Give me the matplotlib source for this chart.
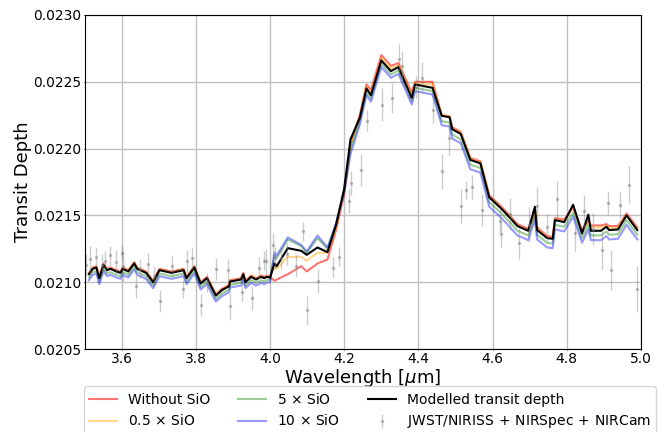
import numpy as np
import matplotlib
matplotlib.use("Agg")
import matplotlib.pyplot as plt

# model wavelength grid (micron)
wl_model = [3.512, 3.522, 3.532, 3.540, 3.551, 3.561, 3.570, 3.586, 3.597, 3.603,
            3.618, 3.634, 3.642, 3.666, 3.685, 3.702, 3.735, 3.767, 3.775, 3.796,
            3.813, 3.830, 3.854, 3.870, 3.890, 3.892, 3.922, 3.928, 3.934, 3.949,
            3.962, 3.976, 3.985, 3.991, 4.000, 4.012, 4.018, 4.048, 4.084, 4.099,
            4.128, 4.155, 4.178, 4.200, 4.217, 4.242, 4.260, 4.272, 4.300, 4.326,
            4.346, 4.382, 4.391, 4.438, 4.463, 4.484, 4.491, 4.514, 4.540, 4.567,
            4.591, 4.616, 4.622, 4.644, 4.667, 4.696, 4.714, 4.720, 4.747, 4.762,
            4.768, 4.793, 4.817, 4.841, 4.858, 4.865, 4.892, 4.907, 4.914, 4.938,
            4.961, 4.990]

# transit depths in units of 1e-5
best_fit = [2106, 2110, 2111, 2103, 2113, 2109, 2110, 2108, 2107, 2110,
            2108, 2114, 2110, 2107, 2100, 2109, 2107, 2109, 2103, 2111,
            2099, 2103, 2090, 2094, 2097, 2100.5, 2102, 2106, 2100, 2104,
            2102, 2104, 2103, 2104, 2103.5, 2114, 2112, 2125.5, 2123.5, 2120.5,
            2126, 2122.5, 2143, 2170, 2207, 2223, 2245, 2240, 2266, 2258,
            2261, 2238, 2248, 2245.5, 2224.5, 2223.5, 2214.5, 2211, 2191.5, 2189,
            2163.5, 2157, 2155.5, 2149, 2142, 2138.5, 2156.5, 2139, 2133, 2132.5,
            2146.5, 2145, 2158, 2136.5, 2150.5, 2138.5, 2138.5, 2141.5, 2139, 2139.5,
            2150, 2139]

no_sio = [2107, 2111, 2112, 2104, 2114, 2110, 2111, 2109, 2108, 2111,
          2109, 2115, 2111, 2108, 2101, 2110, 2108, 2110, 2104, 2112,
          2100, 2104, 2091, 2095, 2098, 2101.5, 2103, 2107, 2101, 2105,
          2103, 2105, 2104, 2105, 2104, 2101, 2102, 2106, 2112, 2108,
          2114, 2117, 2139, 2166, 2204, 2225, 2248, 2244, 2270, 2262,
          2264, 2242, 2250, 2250, 2225, 2224, 2216, 2212.5, 2193, 2190.5,
          2165, 2158.5, 2157, 2150.5, 2143.5, 2140, 2152, 2141, 2134.5, 2134,
          2148, 2147, 2156, 2139, 2146, 2142.5, 2142.5, 2143.5, 2142, 2142,
          2151.5, 2141]

sio_05 = [2106.5, 2110.5, 2111.5, 2103.5, 2113.5, 2109.5, 2110.5, 2108.5, 2107.5, 2110.5,
          2108.5, 2114.5, 2110.5, 2107.5, 2100.5, 2109.5, 2107.5, 2109.5, 2103.5, 2111.5,
          2099.5, 2103.5, 2090.5, 2094.5, 2097.5, 2101, 2102.5, 2106.5, 2100.5, 2104.5,
          2102.5, 2104.5, 2103.5, 2104.5, 2104, 2111, 2110, 2119, 2119, 2116,
          2122, 2122, 2141, 2168, 2203, 2224, 2246.5, 2242, 2268, 2260,
          2262.5, 2240, 2249, 2248, 2225, 2224, 2215, 2212, 2192, 2190,
          2164, 2157.5, 2156, 2150, 2142.5, 2139, 2152, 2140, 2133.5, 2133,
          2147, 2146, 2156, 2138, 2146, 2141, 2141, 2142.5, 2140.5, 2141,
          2150.5, 2140]

sio_5 = [2103.5, 2107.5, 2108.5, 2100.5, 2110.5, 2106.5, 2107.5, 2105.5, 2104.5, 2107.5,
         2105.5, 2111.5, 2107.5, 2104.5, 2097.5, 2106.5, 2104.5, 2106.5, 2100.5, 2108.5,
         2096.5, 2100.5, 2087.5, 2091.5, 2094.5, 2098, 2099.5, 2103.5, 2097.5, 2101.5,
         2099.5, 2101.5, 2100.5, 2101.5, 2102, 2120, 2118, 2132, 2127, 2122,
         2133, 2125, 2143.5, 2169, 2200, 2220.5, 2242.5, 2237.5, 2263.5, 2255.5,
         2258.5, 2235.5, 2245.5, 2243, 2220.5, 2219.5, 2210.5, 2207, 2188, 2185.5,
         2160, 2153.5, 2152, 2145.5, 2138.5, 2135, 2150, 2135.5, 2129.5, 2129,
         2143, 2141.5, 2152, 2133, 2143, 2135, 2135, 2138, 2135.5, 2136,
         2146.5, 2135.5]

sio_10 = [2101.5, 2105.5, 2106.5, 2098.5, 2108.5, 2104.5, 2105.5, 2103.5, 2102.5, 2105.5,
          2103.5, 2109.5, 2105.5, 2102.5, 2095.5, 2104.5, 2102.5, 2104.5, 2098.5, 2106.5,
          2094.5, 2098.5, 2085.5, 2089.5, 2092.5, 2096, 2097.5, 2101.5, 2095.5, 2099.5,
          2097.5, 2099.5, 2098.5, 2099.5, 2100, 2122, 2120, 2133.5, 2128, 2123,
          2135, 2126, 2144, 2167, 2196, 2218, 2240, 2235, 2261, 2253,
          2256, 2233, 2243, 2240.5, 2217.5, 2216.5, 2207.5, 2204, 2184.5, 2182,
          2156.5, 2150, 2148.5, 2142, 2135, 2131.5, 2147, 2132, 2126, 2125.5,
          2139.5, 2138, 2149, 2129.5, 2139.5, 2131.5, 2131.5, 2134.5, 2132, 2132.5,
          2143, 2132]

# observed spectrum
wl_obs = [3.503, 3.516, 3.530, 3.546, 3.556, 3.570, 3.586, 3.602, 3.605, 3.638,
          3.650, 3.670, 3.686, 3.704, 3.735, 3.765, 3.776, 3.790, 3.814, 3.829,
          3.854, 3.888, 3.893, 3.925, 3.951, 3.970, 3.984, 3.989, 4.008, 4.014,
          4.029, 4.046, 4.069, 4.088, 4.100, 4.129, 4.171, 4.185, 4.214, 4.219,
          4.245, 4.261, 4.301, 4.328, 4.349, 4.355, 4.394, 4.411, 4.438, 4.463,
          4.483, 4.516, 4.528, 4.544, 4.571, 4.619, 4.622, 4.647, 4.672, 4.698,
          4.720, 4.747, 4.773, 4.822, 4.846, 4.870, 4.894, 4.912, 4.918, 4.943,
          4.968, 4.990]
depth_obs = [2113, 2117, 2119, 2113, 2116, 2120, 2115, 2122, 2112, 2097,
             2110, 2114, 2105, 2086, 2112, 2095, 2116, 2118, 2083, 2100,
             2110, 2109, 2082, 2093, 2088, 2111, 2116, 2116, 2128, 2118,
             2118, 2121, 2112, 2138, 2079, 2101, 2111, 2119, 2161, 2174,
             2184, 2221, 2233, 2238, 2267, 2262, 2246, 2253, 2229, 2183,
             2208, 2157, 2169, 2171, 2154, 2146, 2136, 2151, 2129, 2143,
             2157, 2141, 2162, 2137, 2153, 2140, 2124, 2159, 2109, 2158,
             2173, 2095]
err_obs = [8, 10, 7, 8, 7, 7, 9, 6, 11, 9,
           7, 8, 7, 8, 8, 7, 8, 8, 8, 7,
           8, 8, 10, 7.5, 9, 7.5, 7, 9, 9, 8,
           8, 8, 8, 7, 11, 9, 8, 7, 9, 9,
           12, 8, 12, 11, 11, 11, 8, 12, 10, 13,
           13, 13, 7, 9, 12, 9, 10, 12, 12, 13,
           14, 10, 14, 14, 12, 12, 15, 9, 15, 10,
           14, 17]

scale = 1e-5
wl_model = np.array(wl_model)

fig, ax = plt.subplots(figsize=(6.68, 4.32), dpi=100)
fig.subplots_adjust(left=0.1265, right=0.9596, top=0.9653, bottom=0.1921)

ax.plot(wl_model, np.array(no_sio) * scale, color="red", alpha=0.55, lw=1.5, label="Without SiO")
ax.plot(wl_model, np.array(sio_05) * scale, color="orange", alpha=0.45, lw=1.5, label=r"0.5 $\times$ SiO")
ax.plot(wl_model, np.array(sio_5) * scale, color="green", alpha=0.4, lw=1.5, label=r"5 $\times$ SiO")
ax.plot(wl_model, np.array(sio_10) * scale, color="blue", alpha=0.4, lw=1.5, label=r"10 $\times$ SiO")
ax.plot(wl_model, np.array(best_fit) * scale, color="black", lw=1.5, label="Modelled transit depth")
ax.errorbar(wl_obs, np.array(depth_obs) * scale, yerr=np.array(err_obs) * scale,
            fmt=".", color="gray", alpha=0.4, ms=3, elinewidth=1,
            label=r"JWST/NIRISS$\,+\,$NIRSpec$\,+\,$NIRCam")

ax.set_xlim(3.5, 5.0)
ax.set_ylim(0.0205, 0.0230)
ax.set_yticks([0.0205, 0.0210, 0.0215, 0.0220, 0.0225, 0.0230])
ax.yaxis.set_major_formatter(matplotlib.ticker.FormatStrFormatter("%.4f"))
ax.tick_params(labelsize=10, length=1, pad=1)
ax.grid(True, color="#c0c0c0", lw=1)
ax.set_axisbelow(True)
ax.set_xlabel(r"Wavelength [$\mu$m]", fontsize=13, labelpad=1)
ax.set_ylabel("Transit Depth", fontsize=13, labelpad=1)

ax.legend(loc="upper left", bbox_to_anchor=(-0.0135, -0.0898), ncol=3, fontsize=10,
          frameon=True)

fig.savefig("out.png", dpi=100)
